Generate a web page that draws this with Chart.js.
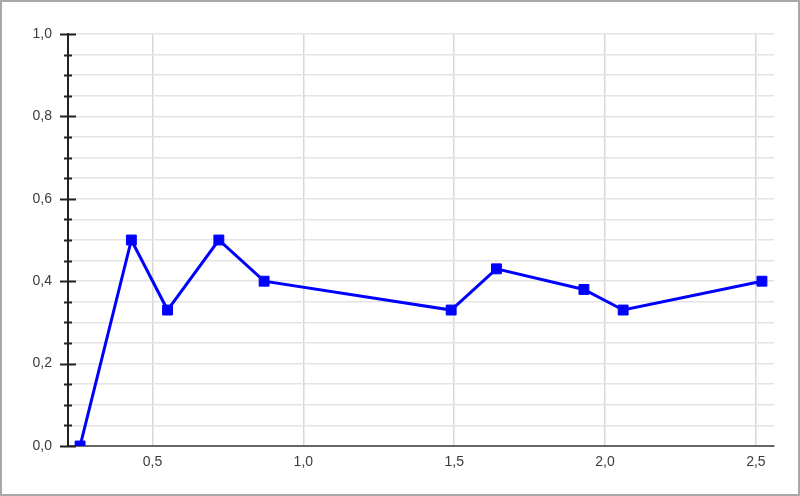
<!DOCTYPE html>
<html>
<head>
<meta charset="utf-8">
<script src="https://cdn.jsdelivr.net/npm/chart.js@4.4.1/dist/chart.umd.min.js"></script>
<style>
    html, body { margin: 0; padding: 0; background: #fff; }
    #wrap {
        width: 800px;
        height: 496px;
        box-sizing: border-box;
        border: 2px solid #a8a8a8;
    }
    canvas { display: block; }
</style>
</head>
<body>
<div id="wrap"><canvas id="lineChart" width="796" height="492"></canvas></div>
<script>
    // data
    const xValues = [0.26, 0.43, 0.55, 0.72, 0.87, 1.49, 1.64, 1.93, 2.06, 2.52];
    const yValues = [0.0, 0.5, 0.33, 0.5, 0.4, 0.33, 0.43, 0.38, 0.33, 0.4];

    const xRange = [0.22, 2.56];
    const yRange = [0, 1];
    const xStep = 0.5;
    const yStep = 0.05;
    const yLabelStep = 0.2;

    const fontFamily = "'Liberation Sans', Arial, sans-serif";

    const points = xValues.map((x, i) => ({ x: x, y: yValues[i] }));

    const formatComma = (v) => v.toFixed(1).replace('.', ',');

    const isMajorY = (v) => {
        const r = v / yLabelStep;
        return Math.abs(r - Math.round(r)) < 1e-6;
    };

    // tick marks centred on the y axis, long for labelled ticks and short between
    const yTickMarks = {
        id: 'yTickMarks',
        afterDraw(chart) {
            const scale = chart.scales.y;
            const ctx = chart.ctx;
            const x = scale.right;
            ctx.save();
            ctx.strokeStyle = '#222';
            ctx.lineWidth = 2;
            scale.ticks.forEach((tick) => {
                const y = Math.round(scale.getPixelForValue(tick.value)) + 0.5;
                const half = isMajorY(tick.value) ? 8 : 4;
                ctx.beginPath();
                ctx.moveTo(x - half, y);
                ctx.lineTo(x + half, y);
                ctx.stroke();
            });
            ctx.restore();
        }
    };

    const ctx = document.getElementById('lineChart');

    new Chart(ctx, {
        type: 'line',
        data: {
            datasets: [{
                data: points,
                borderColor: '#0000ff',
                backgroundColor: '#0000ff',
                borderWidth: 3,
                tension: 0,
                pointStyle: 'rect',
                pointRadius: 7,
                pointBorderWidth: 1,
                pointHoverRadius: 7,
                clip: 0
            }]
        },
        options: {
            responsive: false,
            animation: false,
            devicePixelRatio: 1,
            layout: {
                padding: { left: 0, top: 32, right: 24, bottom: 0 }
            },
            plugins: {
                legend: { display: false },
                tooltip: { enabled: false }
            },
            scales: {
                x: {
                    type: 'linear',
                    min: xRange[0],
                    max: xRange[1],
                    afterFit: (scale) => { scale.height = 48; },
                    ticks: {
                        stepSize: xStep,
                        includeBounds: false,
                        padding: 8,
                        color: '#3c3c3c',
                        font: { family: fontFamily, size: 14 },
                        callback: (v) => formatComma(v)
                    },
                    grid: {
                        color: '#d8d8d8',
                        lineWidth: 1.5,
                        drawTicks: false
                    },
                    border: {
                        color: '#666',
                        width: 2
                    }
                },
                y: {
                    type: 'linear',
                    min: yRange[0],
                    max: yRange[1],
                    afterFit: (scale) => { scale.width = 66; },
                    ticks: {
                        stepSize: yStep,
                        autoSkip: false,
                        padding: 16,
                        color: '#3c3c3c',
                        font: { family: fontFamily, size: 14 },
                        callback: (v) => isMajorY(v) ? formatComma(v) : ''
                    },
                    grid: {
                        color: '#e4e4e4',
                        lineWidth: 1.5,
                        drawTicks: false
                    },
                    border: {
                        color: '#222',
                        width: 2
                    }
                }
            }
        },
        plugins: [yTickMarks]
    });
</script>
</body>
</html>
